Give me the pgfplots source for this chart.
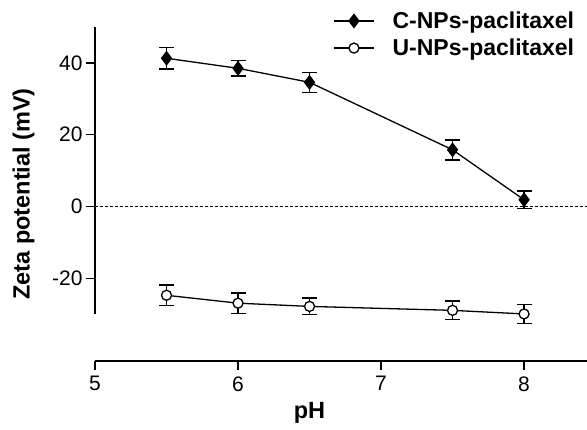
\documentclass[border=0pt]{standalone}
\usepackage{pgfplots}
\pgfplotsset{compat=1.18}
\usepackage{pgfplotstable}
\usepackage{fontspec}
\setmainfont{Liberation Sans}

% pH, zeta (mV), SD
\pgfplotstableread{
ph   z      err
5.5  41.3   3.0
6.0  38.5   2.2
6.5  34.6   2.8
7.5  15.8   2.8
8.0  1.9    2.5
}\cnps
\pgfplotstableread{
ph   z      err
5.5  -24.7  2.8
6.0  -26.9  2.9
6.5  -27.8  2.3
7.5  -28.9  2.6
8.0  -29.9  2.6
}\unps

\begin{document}
\begin{tikzpicture}
  \useasboundingbox (-95pt,-68pt) rectangle (492pt,361pt);
  \begin{axis}[
    scale only axis,
    width=492pt, height=334pt,
    xmin=5, xmax=8.44,
    ymin=-43, ymax=50,
    clip=false,
    axis x line*=bottom,
    axis y line*=left,
    y axis line style={draw=none},
    x axis line style={line width=1.5pt},
    xtick={5,6,7,8},
    ytick={-20,0,20,40},
    tick align=outside,
    major tick length=9pt,
    tick style={line width=1.5pt, black},
    /pgf/number format/assume math mode=true,
    tick label style={font=\fontsize{21}{22}\selectfont},
    yticklabel style={xshift=0pt},
    xticklabel style={yshift=-3pt},
    xlabel={\textbf{pH}},
    ylabel={\textbf{Zeta potential (mV)}},
    label style={font=\fontsize{23.5}{25}\selectfont},
    xlabel style={at={(axis description cs:0.436,0)}, anchor=north, yshift=-38pt},
    ylabel style={at={(axis description cs:0,0.5)}, anchor=south, xshift=0pt, yshift=57pt},
    legend style={draw=none, fill=none, inner sep=0pt,
      font=\bfseries\fontsize{23}{24.5}\selectfont,
      at={(axis description cs:0.484,1.052)}, anchor=north west,
      row sep=5pt, /tikz/every odd column/.append style={column sep=16pt}},
    legend cell align=left,
    legend image code/.code={%
      \draw[mark repeat=2, mark phase=2, #1] plot coordinates {(0pt,0pt) (20pt,0pt) (40pt,0pt)};},
  ]
    \addplot[black, line width=1.3pt, mark=diamond*, mark size=6.5pt,
      mark options={solid, fill=black},
      error bars/.cd, y dir=both, y explicit,
      error bar style={line width=1.5pt},
      error mark options={rotate=90, line width=1.5pt, mark size=7.5pt}]
      table[x=ph, y=z, y error=err] {\cnps};
    \addlegendentry{C-NPs-paclitaxel}
    \addplot[black, line width=1.3pt, mark=*, mark size=5pt,
      mark options={solid, fill=white},
      error bars/.cd, y dir=both, y explicit,
      error bar style={line width=1.5pt},
      error mark options={rotate=90, line width=1.5pt, mark size=7.5pt}]
      table[x=ph, y=z, y error=err] {\unps};
    \addlegendentry{U-NPs-paclitaxel}
    % zero reference line
    \addplot[black, line width=1pt, dash pattern=on 3pt off 2pt, forget plot]
      coordinates {(5,0) (8.44,0)};
    % y axis line, stopped at -30 as in the original
    \draw[line width=1.5pt, black] (axis cs:5,-30) -- (axis cs:5,50);
  \end{axis}
\end{tikzpicture}
\end{document}
